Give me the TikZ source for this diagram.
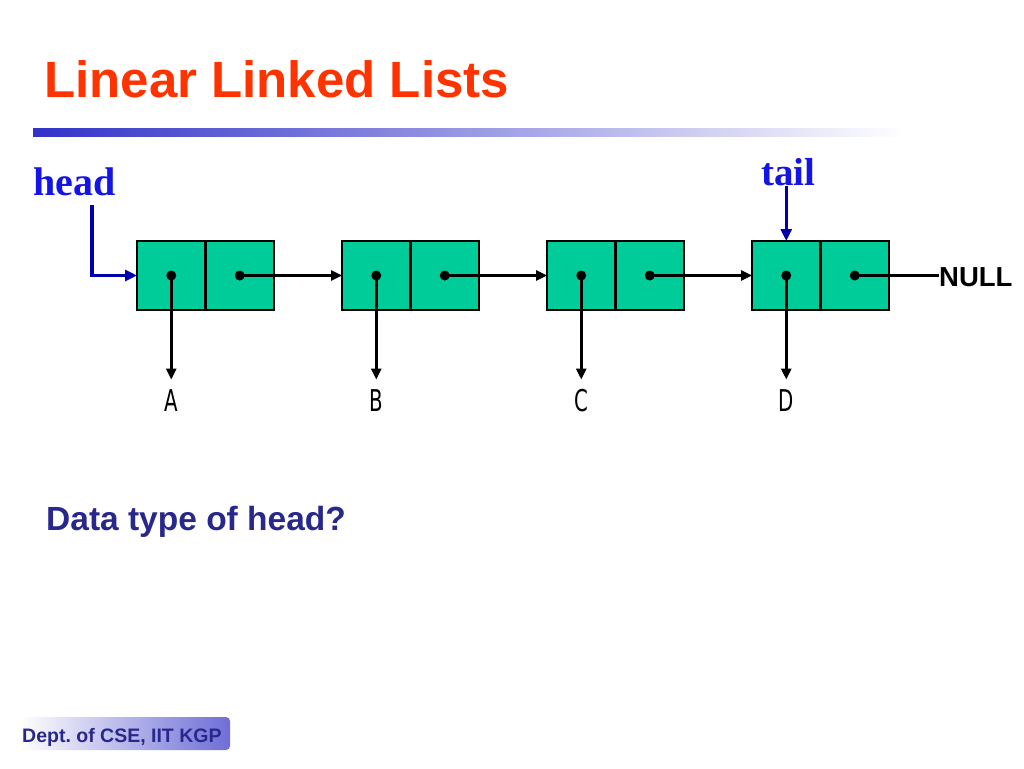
\documentclass[tikz,border=0pt]{standalone}
\usepackage{fontspec}
\setmainfont{Liberation Sans}
\newfontfamily\timesf{Liberation Serif}
\newfontfamily\dejavu{DejaVu Sans}
\usetikzlibrary{arrows.meta,positioning,calc}
\definecolor{titlered}{RGB}{255,51,0}
\definecolor{cellgreen}{RGB}{0,204,153}
\definecolor{ptrblue}{RGB}{0,0,170}
\definecolor{labblue}{RGB}{20,20,230}
\definecolor{darkblue}{RGB}{40,40,140}
\definecolor{barblue}{RGB}{50,50,200}
\definecolor{footblue}{RGB}{110,110,215}
\tikzset{
  cell/.style={draw=black, line width=2.7pt, fill=cellgreen, minimum width=68.5pt, minimum height=69pt, inner sep=0pt, outer sep=0pt},
  dotc/.style={circle, fill=black, inner sep=0pt, minimum size=10pt},
  link/.style={line width=2.6pt, -{Triangle[length=11pt,width=10pt]}},
  plainlink/.style={line width=2.6pt},
  blueptr/.style={draw=ptrblue, line width=3.2pt, -{Triangle[length=12pt,width=11pt]}},
}
\begin{document}
\begin{tikzpicture}[x=1pt,y=-1pt]
\useasboundingbox (0,0) rectangle (1024,768);
\fill[white] (0,0) rectangle (1024,768);
% title
\node[anchor=base west, inner sep=0pt, text=titlered, font=\bfseries\fontsize{51}{56}\selectfont] (title) at (44,97) {Linear Linked Lists};
% gradient bar
\shade[left color=barblue, right color=white] (33,128) rectangle (905,136);
% cells
\foreach \i/\x in {1/137,2/342,3/547,4/752}{
  \node[cell, anchor=north west] (c\i a) at (\x,241) {};
  \node[cell, anchor=west] (c\i b) at (c\i a.east) {};
  \node[dotc] (d\i a) at (c\i a.center) {};
  \node[dotc] (d\i b) at (c\i b.center) {};
}
% links
\draw[link] (d1b.center) -- (c2a.west);
\draw[link] (d2b.center) -- (c3a.west);
\draw[link] (d3b.center) -- (c4a.west);
% data
\foreach \i/\l in {1/A,2/B,3/C,4/D}{
  \node[anchor=base, inner sep=0pt, font=\dejavu\fontsize{30}{30}\selectfont, xscale=0.66] (lab\i) at ($(d\i a.center)+(0,136)$) {\l};
}
\foreach \i in {1,2,3,4}{
  \draw[link] (d\i a.center) -- ++(0,104) coordinate (e\i);
}
% NULL
\node[anchor=base west, inner sep=0pt, font=\bfseries\fontsize{27.5}{30}\selectfont] (null) at (939,286) {NULL};
\draw[plainlink] (d4b.center) -- (null.west |- d4b.center);
% head
\node[anchor=base west, inner sep=0pt, text=labblue, font=\timesf\bfseries\fontsize{40}{44}\selectfont] (head) at (33,195) {head};
\coordinate (hs) at (92,205);
\draw[blueptr] (hs) |- (c1a.west);
% tail
\node[anchor=base west, inner sep=0pt, text=labblue, font=\timesf\bfseries\fontsize{39}{44}\selectfont] (tail) at (761,185) {tail};
\draw[blueptr] (tail.south -| d4a) -- (c4a.north -| d4a);
% question
\node[anchor=base west, inner sep=0pt, text=darkblue, font=\bfseries\fontsize{33.5}{36}\selectfont] (q) at (46,530) {Data type of head?};
% footer
\shade[left color=white, right color=footblue, rounded corners=4pt] (20,717) rectangle (230,750);
\node[anchor=base west, inner sep=0pt, text=darkblue, font=\bfseries\fontsize{19.5}{22}\selectfont] (foot) at (22,742) {Dept.\ of CSE, IIT KGP};
\end{tikzpicture}
\end{document}
